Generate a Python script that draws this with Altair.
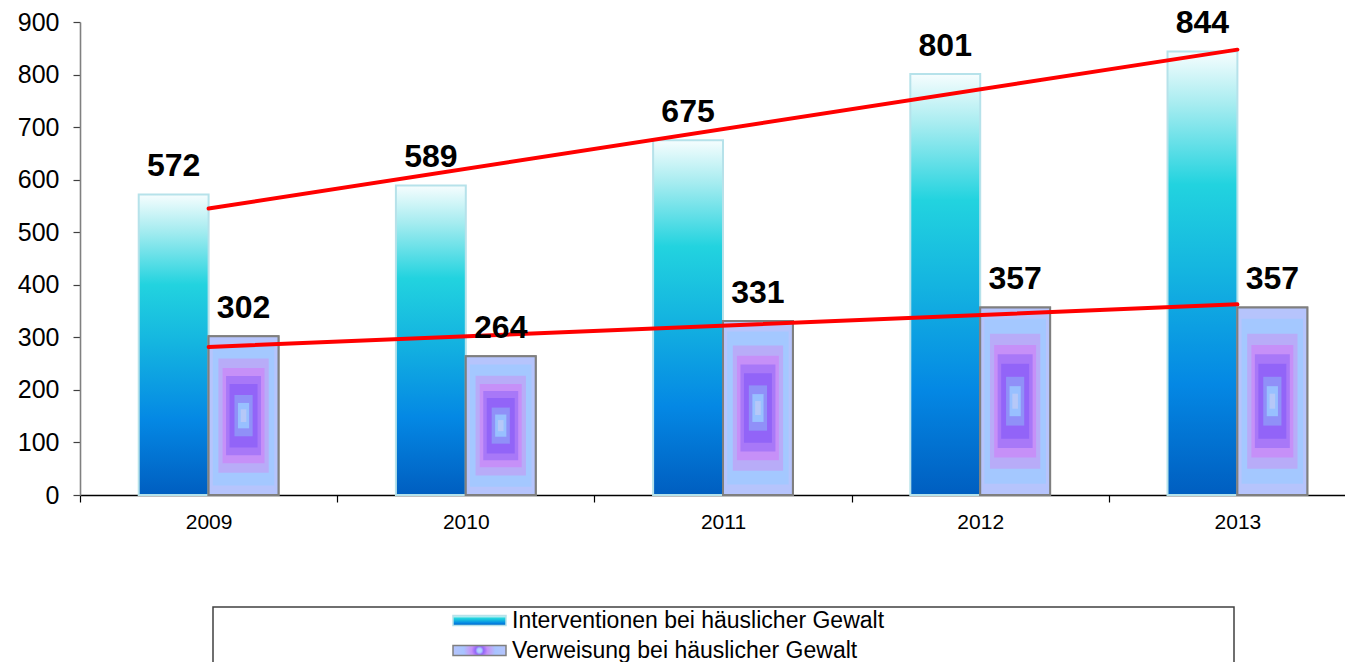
import altair as alt
import pandas as pd

years = ["2009", "2010", "2011", "2012", "2013"]
interventionen = [572, 589, 675, 801, 844]
verweisung = [302, 264, 331, 357, 357]
series_names = ["Interventionen bei häuslicher Gewalt", "Verweisung bei häuslicher Gewalt"]
y_ticks = [0, 100, 200, 300, 400, 500, 600, 700, 800, 900]

rows = []
for i, yr in enumerate(years):
    rows.append({"year": yr, "idx": i, "series": series_names[0], "value": interventionen[i]})
    rows.append({"year": yr, "idx": i, "series": series_names[1], "value": verweisung[i]})
df = pd.DataFrame(rows)

FONT = "Liberation Sans"
BAR_PX = 1286 / 5 / 3.68  # width of one bar in pixels (style)

# style: stepped "path" fill of the second series (relative ring size, colour)
ring_sizes = [1.0, 0.88, 0.72, 0.6, 0.5, 0.4, 0.26, 0.16, 0.08]
ring_colors = ["#b6c4fc", "#a4c8ff", "#b8acf8", "#c690f8", "#a878f8",
               "#9264f8", "#9090f8", "#98c0ff", "#b6c8f8"]

blue_expr = (
    "{gradient: 'linear', x1: 0, y1: 0, x2: 0, y2: 1, stops: ["
    "{offset: 0, color: '#f6fdfe'}, {offset: 0.12, color: '#a6ecf0'}, "
    "{offset: 0.3, color: '#22d3df'}, {offset: 0.5, color: '#14b4e0'}, "
    "{offset: 0.75, color: '#0488e4'}, {offset: 1, color: '#005ec0'}]}"
)
purple_expr = (
    "{gradient: 'radial', x1: 0.5, y1: 0.5, r1: 0, x2: 0.5, y2: 0.5, r2: 0.5, stops: ["
    "{offset: 0, color: '#c4d0fa'}, {offset: 0.08, color: '#a8ccff'}, "
    "{offset: 0.16, color: '#9466f8'}, {offset: 0.3, color: '#c490f8'}, "
    "{offset: 0.45, color: '#bcaaf8'}, {offset: 0.6, color: '#a8c4ff'}, "
    "{offset: 1, color: '#b6c4fc'}]}"
)

base = alt.Chart(df)

x_enc = alt.X(
    "year:N",
    scale=alt.Scale(domain=years, range=[0, 1286], paddingInner=0, paddingOuter=0),
    axis=alt.Axis(
        title=None, labelAngle=0, labelFont=FONT, labelFontSize=21, labelColor="black",
        domainColor="black", domainWidth=1.5, tickColor="black", tickWidth=1.2,
        tickSize=7, tickBand="extent", labelPadding=9, grid=False,
    ),
)
y_enc = alt.Y(
    "value:Q",
    scale=alt.Scale(domain=[0, 900], nice=False),
    axis=alt.Axis(
        title=None, values=y_ticks, labelFont=FONT, labelFontSize=25, labelColor="black",
        domainColor="#808080", domainWidth=1.6, tickColor="#404040", tickWidth=1.2,
        tickSize=7, labelPadding=14, grid=False,
    ),
)
xoff = alt.XOffset(
    "series:N",
    scale=alt.Scale(domain=series_names, paddingInner=0, paddingOuter=0.84),
)

bars = base.mark_bar(strokeWidth=2).encode(
    x=x_enc,
    xOffset=xoff,
    y=y_enc,
    fill=alt.Fill(
        "series:N",
        scale=alt.Scale(domain=series_names,
                        range=[alt.ExprRef(expr=blue_expr), alt.ExprRef(expr=purple_expr)]),
        title=None,
    ),
    stroke=alt.Stroke(
        "series:N",
        scale=alt.Scale(domain=series_names, range=["#b6e2ea", "#7f7f7f"]),
        title=None,
    ),
)

purple_base = base.transform_filter(alt.datum.series == series_names[1])
rings = []
for t, col in zip(ring_sizes, ring_colors):
    lo = (1 - t) / 2
    hi = (1 + t) / 2
    rings.append(
        purple_base.transform_calculate(
            lo=f"datum.value * {lo}", hi=f"datum.value * {hi}"
        ).mark_bar(width=BAR_PX * t, color=col).encode(
            x=alt.X("year:N", title=None),
            xOffset=alt.XOffset("series:N"),
            y=alt.Y("lo:Q", title=None),
            y2=alt.Y2("hi:Q"),
        )
    )

outline = purple_base.mark_bar(filled=False, stroke="#7f7f7f", strokeWidth=2).encode(
    x=alt.X("year:N", title=None),
    xOffset=alt.XOffset("series:N"),
    y=alt.Y("value:Q", title=None),
)

labels = base.mark_text(
    font=FONT, fontSize=32, fontWeight="bold", baseline="alphabetic", dy=-18, color="black"
).encode(
    x=alt.X("year:N", title=None),
    xOffset=alt.XOffset("series:N"),
    y=alt.Y("value:Q", title=None),
    text=alt.Text("value:Q"),
)

trend = base.transform_regression(
    "idx", "value", groupby=["series"], method="linear"
).transform_calculate(
    year="'' + (2009 + datum.idx)"
).mark_line(color="#ff0000", strokeWidth=4, strokeCap="round").encode(
    x=alt.X("year:N", title=None),
    y=alt.Y("value:Q", title=None),
    detail=alt.Detail("series:N"),
)

frame = alt.Chart(alt.Data(values=[{"a": 1}])).mark_rect(
    filled=False, stroke="#404040", strokeWidth=1.5
).encode(
    x=alt.value(133), x2=alt.value(1154), y=alt.value(585), y2=alt.value(720)
)

chart = alt.layer(bars, *rings, outline, trend, labels, frame).properties(
    width=1265,
    height=473,
    autosize=alt.AutoSizeParams(type="none"),
    padding={"left": 72, "top": 14, "right": 0, "bottom": 167},
).configure_view(
    stroke=None
).configure_legend(
    orient="none",
    legendX=372,
    legendY=588,
    padding=0,
    labelFont=FONT,
    labelFontSize=23,
    labelColor="black",
    labelOffset=5,
    labelLimit=600,
    symbolType="M-1,-0.19H1V0.19H-1Z",
    symbolSize=2809,
    symbolStrokeWidth=1.5,
    symbolOpacity=1,
    clipHeight=21,
    rowPadding=6,
)

chart.save("out.html", embed_options={"renderer": "svg", "actions": False})
